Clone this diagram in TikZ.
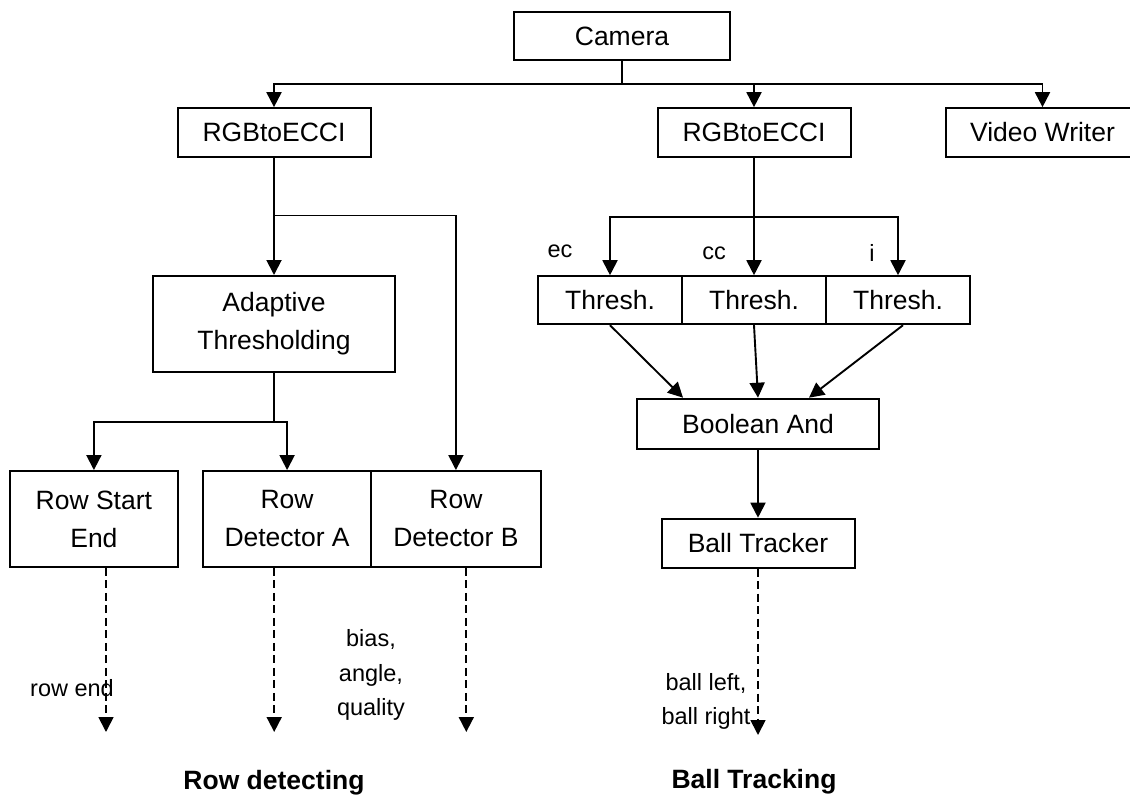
\documentclass[tikz,border=0pt]{standalone}
\usepackage{fontspec}
\setmainfont{Liberation Sans}
\usetikzlibrary{arrows.meta}
\begin{document}
\begin{tikzpicture}[x=1pt,y=-1pt,
  box/.style={draw,line width=2pt,inner sep=0pt,align=center,
    font=\fontsize{26.5}{38}\selectfont},
  lab/.style={inner sep=0pt,align=center,font=\fontsize{23.5}{34.5}\selectfont},
  ttl/.style={inner sep=0pt,font=\fontsize{26.5}{32}\selectfont\bfseries},
  arr/.style={-{Triangle[length=15pt,width=15pt]},line width=1.9pt},
  darr/.style={-{Triangle[length=15pt,width=15pt]},line width=1.8pt,dash pattern=on 8pt off 4.5pt}]
\useasboundingbox (0,0) rectangle (1130,797);
\clip (0,0) rectangle (1130,797);
% nodes
\node[box,minimum width=216.5pt,minimum height=48pt] (cam) at (622,36.3) {Camera};
\node[box,minimum width=193pt,minimum height=48.5pt] (rgb1) at (274,132.4) {RGBtoECCI};
\node[box,minimum width=193pt,minimum height=48.5pt] (rgb2) at (754,132.4) {RGBtoECCI};
\node[box,minimum width=193pt,minimum height=48.5pt] (vw) at (1042.5,132.4) {Video Writer};
\node[box,minimum width=242pt,minimum height=96pt] (adapt) at (274,324) {Adaptive\\Thresholding};
\node[box,minimum width=144pt,minimum height=48pt] (t1) at (610,300.2) {Thresh.};
\node[box,minimum width=144pt,minimum height=48pt] (t2) at (754,300.2) {Thresh.};
\node[box,minimum width=144pt,minimum height=48pt] (t3) at (898,300.2) {Thresh.};
\node[box,minimum width=242pt,minimum height=50.6pt] (band) at (758,424) {Boolean And};
\node[box,minimum width=193pt,minimum height=49pt] (ball) at (758,543.2) {Ball Tracker};
\node[box,minimum width=168.3pt,minimum height=95.7pt] (rse) at (93.9,518.9) {Row Start\\End};
\node[box,minimum width=168.2pt,minimum height=95.7pt] (rda) at (287.1,518.9) {Row\\Detector A};
\node[box,minimum width=169.3pt,minimum height=95.7pt] (rdb) at (455.9,518.9) {Row\\Detector B};
% labels
\node[lab] (lec) at (560,251) {ec};
\node[lab] (lcc) at (714,253) {cc};
\node[lab] (li) at (872,253) {i};
\node[lab] (lre) at (72,688) {row end};
\node[lab] (lbaq) at (371,675) {bias,\\angle,\\quality};
\node[lab] (lball) at (706,701.5) {ball left,\\ball right};
\node[ttl] (trd) at (274,783) {Row detecting};
\node[ttl] (tbt) at (754,782) {Ball Tracking};
% junctions
\coordinate (j0) at (622,84);
\coordinate (j1) at (274,215.3);
\coordinate (j1r) at (455.9,215.3);
\coordinate (j2) at (274,422);
\coordinate (j3) at (754,216.7);
\coordinate (o1) at (106,732);
\coordinate (o2) at (274.2,732);
\coordinate (o3) at (466.3,732);
\coordinate (o4) at (758,735);
% connectors
\draw[line width=1.9pt] (cam) -- (j0);
\draw[arr] (j0) -| (rgb1);
\draw[arr] (j0) -| (rgb2);
\draw[arr] (j0) -| (vw);
\draw[arr] (rgb1) -- (adapt);
\draw[line width=1.6pt] (j1) -- (j1r);
\draw[arr,line width=1.6pt] (j1r) -- (rdb);
\draw[line width=1.9pt] (adapt) -- (j2);
\draw[arr] (j2) -| (rse);
\draw[arr] (j2) -| (rda);
\draw[arr] (rgb2) -- (t2);
\draw[arr] (j3) -| (t1);
\draw[arr] (j3) -| (t3);
\draw[arr] (t1.south) -- ([xshift=-75pt]band.north);
\draw[arr] (t2.south) -- (band.north);
\draw[arr] ([xshift=5pt]t3.south) -- ([xshift=51pt]band.north);
\draw[arr] (band) -- (ball);
\draw[darr] (rse.south -| o1) -- (o1);
\draw[darr] (rda.south -| o2) -- (o2);
\draw[darr] (rdb.south -| o3) -- (o3);
\draw[darr] (ball) -- (o4);
\end{tikzpicture}
\end{document}
